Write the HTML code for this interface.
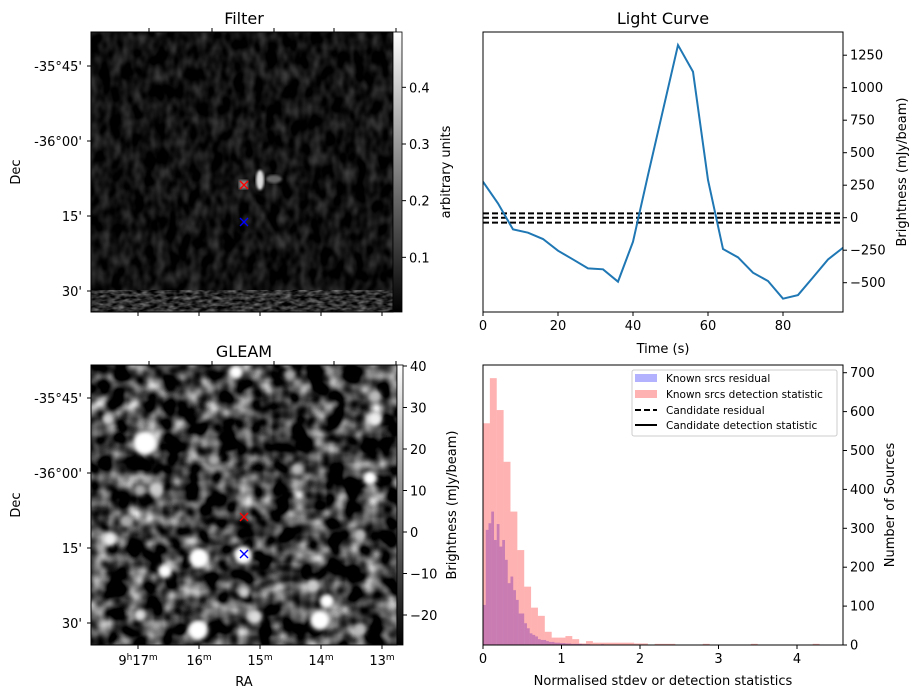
<!DOCTYPE html>
<html><head><meta charset="utf-8"><style>
body{margin:0;background:#fff}
svg{display:block;font-family:"DejaVu Sans","Liberation Sans",sans-serif}
</style></head><body>
<svg id="fig" width="919" height="699" viewBox="0 0 919 699" xmlns="http://www.w3.org/2000/svg">
<defs>
<filter id="fdark" x="0" y="0" width="100%" height="100%" color-interpolation-filters="sRGB">
<feTurbulence type="fractalNoise" baseFrequency="0.09 0.06" numOctaves="2" seed="4"/>
<feColorMatrix type="matrix" values="0.45 0 0 0 -0.16  0.45 0 0 0 -0.16  0.45 0 0 0 -0.16  0 0 0 0 1"/>
</filter>
<filter id="fstripe" x="0" y="0" width="100%" height="100%" color-interpolation-filters="sRGB">
<feTurbulence type="fractalNoise" baseFrequency="0.12 0.3" numOctaves="2" seed="9"/>
<feColorMatrix type="matrix" values="0.8 0 0 0 -0.22  0.8 0 0 0 -0.22  0.8 0 0 0 -0.22  0 0 0 0 1"/>
</filter>
<filter id="fgleam" x="0" y="0" width="100%" height="100%" color-interpolation-filters="sRGB">
<feTurbulence type="fractalNoise" baseFrequency="0.055" numOctaves="2" seed="3"/>
<feColorMatrix type="matrix" values="1.8 0 0 0 -0.68  1.8 0 0 0 -0.68  1.8 0 0 0 -0.68  0 0 0 0 1"/>
</filter>
<filter id="blur3"><feGaussianBlur stdDeviation="2.2"/></filter>
<filter id="blur1"><feGaussianBlur stdDeviation="1.2"/></filter>
<clipPath id="cf"><rect x="91" y="32" width="302" height="280"/></clipPath>
<clipPath id="cg"><rect x="91" y="365" width="306" height="280"/></clipPath>
<clipPath id="clc"><rect x="483" y="32" width="360" height="280"/></clipPath>
<clipPath id="ch"><rect x="483" y="365" width="360" height="280"/></clipPath>
<linearGradient id="gray1" x1="0" y1="1" x2="0" y2="0"><stop offset="0" stop-color="#000"/><stop offset="1" stop-color="#fff"/></linearGradient>
</defs>

<g>
<text x="244" y="24" font-size="16" text-anchor="middle">Filter</text>
<g clip-path="url(#cf)">
<rect x="91" y="32" width="302" height="280" fill="#000"/>
<rect x="91" y="32" width="302" height="280" filter="url(#fdark)"/>
<rect x="91" y="290" width="302" height="22" filter="url(#fstripe)"/>
<ellipse cx="260" cy="180" rx="4" ry="10" fill="#ddd" filter="url(#blur1)"/>
<ellipse cx="274" cy="179" rx="8" ry="4" fill="#666" filter="url(#blur1)"/>
<rect x="239" y="180" width="9" height="9" fill="#888" filter="url(#blur1)"/>
</g>
<rect x="91" y="32" width="302" height="280" fill="none" stroke="#000" stroke-width="1"/>
<rect x="393" y="32" width="9" height="280" fill="url(#gray1)"/>
<rect x="393" y="32" width="9" height="280" fill="none" stroke="#000" stroke-width="0.8"/>
<g id="filterMarks"></g>
<g id="filterTicks"></g>
<text transform="translate(450,172) rotate(-90)" font-size="13" text-anchor="middle">arbitrary units</text>
<text transform="translate(20,172) rotate(-90)" font-size="13" text-anchor="middle">Dec</text>
</g>

<g>
<text x="244" y="357" font-size="16" text-anchor="middle">GLEAM</text>
<g clip-path="url(#cg)">
<rect x="91" y="365" width="306" height="280" fill="#000"/>
<rect x="91" y="365" width="306" height="280" filter="url(#fgleam)"/>
<g id="blobs" filter="url(#blur3)"></g>
</g>
<rect x="91" y="365" width="306" height="280" fill="none" stroke="#000" stroke-width="1"/>
<rect x="397" y="365" width="6" height="280" fill="url(#gray1)"/>
<rect x="397" y="365" width="6" height="280" fill="none" stroke="#000" stroke-width="0.8"/>
<g id="gleamMarks"></g>
<g id="gleamTicks"></g>
<text transform="translate(456,505) rotate(-90)" font-size="13" text-anchor="middle">Brightness (mJy/beam)</text>
<text transform="translate(20,505) rotate(-90)" font-size="13" text-anchor="middle">Dec</text>
<text x="244" y="686" font-size="13" text-anchor="middle">RA</text>
</g>

<g>
<text x="663" y="24" font-size="16" text-anchor="middle">Light Curve</text>
<g id="lc" clip-path="url(#clc)"></g>
<rect x="483" y="32" width="360" height="280" fill="none" stroke="#000" stroke-width="1"/>
<g id="lcTicks"></g>
<text x="663" y="353" font-size="13" text-anchor="middle">Time (s)</text>
<text transform="translate(906,172) rotate(-90)" font-size="13" text-anchor="middle">Brightness (mJy/beam)</text>
</g>

<g>
<g id="hist" clip-path="url(#ch)"></g>
<rect x="483" y="365" width="360" height="280" fill="none" stroke="#000" stroke-width="1"/>
<g id="hTicks"></g>
<text x="663" y="685" font-size="13" text-anchor="middle">Normalised stdev or detection statistics</text>
<text transform="translate(894,505) rotate(-90)" font-size="13" text-anchor="middle">Number of Sources</text>
<g>
<rect x="632" y="370" width="205" height="66" rx="2" fill="#fff" fill-opacity="0.8" stroke="#ccc"/>
<rect x="635" y="374" width="22" height="8" fill="#0000ff" fill-opacity="0.3"/>
<text x="666" y="382" font-size="10.5">Known srcs residual</text>
<rect x="635" y="390" width="22" height="8" fill="#ff0000" fill-opacity="0.3"/>
<text x="666" y="398" font-size="10.5">Known srcs detection statistic</text>
<line x1="635" y1="410" x2="657" y2="410" stroke="#000" stroke-width="2" stroke-dasharray="6,3"/>
<text x="666" y="414" font-size="10.5">Candidate residual</text>
<line x1="635" y1="425" x2="657" y2="425" stroke="#000" stroke-width="2"/>
<text x="666" y="429" font-size="10.5">Candidate detection statistic</text>
</g>
</g>
</svg>
<script>
const NS="http://www.w3.org/2000/svg";
function mk(parent,tag,attrs,txt){const e=document.createElementNS(NS,tag);for(const k in attrs)e.setAttribute(k,attrs[k]);if(txt!==undefined)e.textContent=txt;parent.appendChild(e);return e;}

const lcTimes=[0,4,8,12,16,20,24,28,32,36,40,44,48,52,56,60,64,68,72,76,80,84,88,92,96];
const lcFlux=[277,110,-90,-115,-164,-254,-321,-390,-397,-492,-185,328,828,1328,1123,290,-241,-305,-423,-487,-623,-595,-459,-321,-231];
const lcThresholds=[33,0,-38];
const lcXTicks=[0,20,40,60,80];
const lcYTicks=[-500,-250,0,250,500,750,1000,1250];

const redBinWidth=0.0875;
const redCounts=[570,686,604,471,343,244,150,96,75,34,19,19,23,15,4,10,6,6,6,6,6,6,4,4,0,3,3,3,0,0,0,0,3,0,0,0,0,0,0,3,0,0,0,0,0,0,0,0,3];
const blueBinWidth=0.035;
const blueCounts=[103,296,313,343,270,311,253,270,219,159,176,141,116,81,81,56,43,30,26,22,15,13,13,10,8,8,6,6,5,5,4,4,3,3,3,3,2,2,2,1,1,1,1,2,0,1,1,0,1];
const hXTicks=[0,1,2,3,4];
const hYTicks=[0,100,200,300,400,500,600,700];

const decLabels=["-35°45'","-36°00'","15'","30'"];
const raMinutes=["17","16","15","14","13"];
const filterCbTicks=[0.1,0.2,0.3,0.4];
const gleamCbTicks=[-20,-10,0,10,20,30,40];

const lcX=t=>483+t*3.75, lcY=v=>217.7-v*0.13;
const hX=v=>483+v*78.5, hY=c=>645-c*0.389;
const fCb=v=>314-v*566.7;
const gCb=v=>532-v*4.15;

const lc=document.getElementById('lc');
lcThresholds.forEach((v,i)=>{const l=mk(lc,'line',{x1:483,x2:843,y1:lcY(v),y2:lcY(v),stroke:'#000','stroke-width':2,'stroke-dasharray':'6,3'});

});
const pl=mk(lc,'polyline',{points:lcTimes.map((t,i)=>lcX(t)+','+lcY(lcFlux[i])).join(' '),fill:'none',stroke:'#1f77b4','stroke-width':2});


const lct=document.getElementById('lcTicks');
lcXTicks.forEach(t=>{mk(lct,'line',{x1:lcX(t),x2:lcX(t),y1:312,y2:316,stroke:'#000'});
const tx=mk(lct,'text',{x:lcX(t),y:330,'font-size':13,'text-anchor':'middle'},String(t));

});
lcYTicks.forEach(v=>{mk(lct,'line',{x1:843,x2:847,y1:lcY(v),y2:lcY(v),stroke:'#000'});
const tx=mk(lct,'text',{x:850,y:lcY(v)+4.5,'font-size':13},v<0?'\u2212'+(-v):String(v));

});

const h=document.getElementById('hist');
blueCounts.forEach((c,i)=>{if(!c)return;const r=mk(h,'rect',{x:hX(i*blueBinWidth),y:hY(c),width:hX((i+1)*blueBinWidth)-hX(i*blueBinWidth),height:645-hY(c),fill:'#0000ff','fill-opacity':0.3});

});
redCounts.forEach((c,i)=>{if(!c)return;const r=mk(h,'rect',{x:hX(i*redBinWidth),y:hY(c),width:hX((i+1)*redBinWidth)-hX(i*redBinWidth),height:645-hY(c),fill:'#ff0000','fill-opacity':0.3});

});
const ht=document.getElementById('hTicks');
hXTicks.forEach(t=>{mk(ht,'line',{x1:hX(t),x2:hX(t),y1:645,y2:649,stroke:'#000'});
const tx=mk(ht,'text',{x:hX(t),y:663,'font-size':13,'text-anchor':'middle'},String(t));

});
hYTicks.forEach(v=>{mk(ht,'line',{x1:843,x2:847,y1:hY(v),y2:hY(v),stroke:'#000'});
const tx=mk(ht,'text',{x:850,y:hY(v)+4.5,'font-size':13},String(v));

});

function imageAxes(g,top,decYs,cbX,cbTicks,cbScale,fmt,showRA){
  [149,212,274,334,396].forEach(x=>mk(g,'line',{x1:x,x2:x,y1:top,y2:top-4,stroke:'#000'}));
  [138,199,260,321,382].forEach(x=>mk(g,'line',{x1:x,x2:x,y1:top+280,y2:top+284,stroke:'#000'}));
  decYs.forEach((y,i)=>{mk(g,'line',{x1:91,x2:87,y1:y,y2:y,stroke:'#000'});
    const tx=mk(g,'text',{x:82,y:y+5,'font-size':13,'text-anchor':'end'},decLabels[i]);
    
    });
  cbTicks.forEach(v=>{const y=cbScale(v);mk(g,'line',{x1:cbX,x2:cbX+4,y1:y,y2:y,stroke:'#000'});
    const tx=mk(g,'text',{x:cbX+7,y:y+5,'font-size':13},fmt(v));
    
    });
  if(showRA){[138,199,260,321,382].forEach((x,i)=>{
    const tx=mk(g,'text',{x:x,y:665,'font-size':13,'text-anchor':'middle'});
    
    
    if(i===0){mk(tx,'tspan',{},'9');mk(tx,'tspan',{dy:-5,'font-size':9},'h');mk(tx,'tspan',{dy:5},raMinutes[i]);}
    else mk(tx,'tspan',{},raMinutes[i]);
    mk(tx,'tspan',{dy:-5,'font-size':9},'m');});}
}
imageAxes(document.getElementById('filterTicks'),32,[66,141,216,291],402,filterCbTicks,fCb,v=>v.toFixed(1),false);
imageAxes(document.getElementById('gleamTicks'),365,[398,473,548,623],403,gleamCbTicks,gCb,v=>v<0?'\u2212'+(-v):String(v),true);

function cross(g,x,y,c,name){const p=mk(g,'path',{d:`M${x-4},${y-4}L${x+4},${y+4}M${x-4},${y+4}L${x+4},${y-4}`,stroke:c,'stroke-width':1.4,fill:'none'});

}
cross(document.getElementById('filterMarks'),244,185,'#ff0000','candidate-marker');
cross(document.getElementById('filterMarks'),244,222,'#0000ff','source-marker');
cross(document.getElementById('gleamMarks'),244,517,'#ff0000','candidate-marker');
cross(document.getElementById('gleamMarks'),244,554,'#0000ff','source-marker');

const blobs=[[145,443,12,'#fff'],[236,372,7,'#fff'],[199,558,10,'#fff'],[198,630,10,'#fff'],[243,555,9,'#fff'],[165,571,7,'#fff'],[110,539,7,'#eee'],[320,620,10,'#fff'],[327,601,7,'#fff'],[370,478,7,'#fff'],[375,419,7,'#eee'],[108,419,6,'#ccc'],[156,489,7,'#ccc'],[140,615,6,'#ddd'],[255,617,7,'#ddd'],[313,585,6,'#ccc'],[244,592,6,'#ccc'],[375,396,6,'#bbb'],[360,535,6,'#bbb'],[297,469,6,'#bbb'],[140,490,6,'#aaa'],[126,521,6,'#aaa'],[360,630,6,'#bbb'],[290,375,6,'#aaa'],[214,460,6,'#aaa']];
const bg=document.getElementById('blobs');
blobs.forEach(b=>mk(bg,'circle',{cx:b[0],cy:b[1],r:b[2],fill:b[3]}));
</script>
</body></html>
